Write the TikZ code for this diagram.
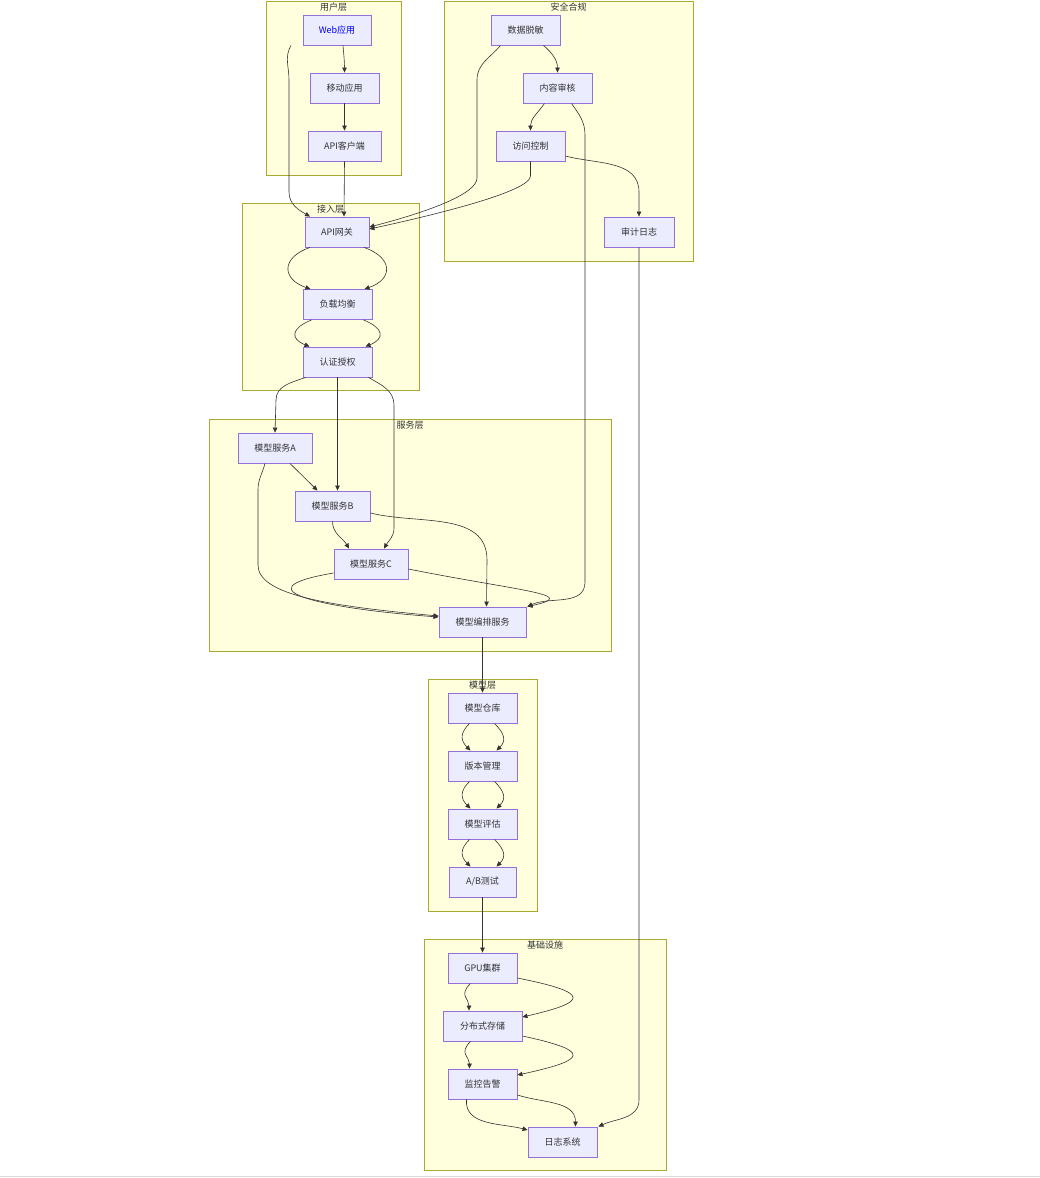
\documentclass[tikz,border=0pt]{standalone}
\usepackage{fontspec}
\setmainfont{Noto Sans CJK SC}
\usetikzlibrary{arrows.meta}
\definecolor{layerfill}{HTML}{FFFFDE}
\definecolor{layerline}{HTML}{AAAA33}
\definecolor{boxfill}{HTML}{ECECFF}
\definecolor{boxline}{HTML}{9370DB}
\definecolor{ink}{HTML}{333333}

\begin{document}
\begin{tikzpicture}[
  x=1pt,
  y=1pt,
  every node/.style={font=\fontsize{9}{11}\selectfont, text=ink},
  layer/.style={draw=layerline, fill=layerfill, line width=0.8pt},
  layerlabel/.style={anchor=north, inner sep=1.5pt},
  box/.style={draw=boxline, fill=boxfill, line width=0.9pt, minimum height=30, inner sep=0pt},
  link/.style={draw=ink, line width=0.6pt, -{Triangle[length=5pt,width=4.5pt]}}
]
  % Canvas: x = pixel column, y = minus pixel row.
  \useasboundingbox (0,0) rectangle (1040,-1178);
  \draw[black!15, line width=1.5pt] (0,-1176.5) -- (1040,-1176.5);

  % Layer frames.
  \draw[layer] (266,-1) rectangle (401,-175);
  \draw[layer] (444,-1) rectangle (693,-261);
  \draw[layer] (242,-203) rectangle (419,-390);
  \draw[layer] (209,-419) rectangle (611,-651);
  \draw[layer] (428,-679) rectangle (537,-911);
  \draw[layer] (424,-939) rectangle (666,-1170);
  \node[layerlabel] (userlbl) at (333.5,-1) {用户层};
  \node[layerlabel] (seclbl) at (568.5,-1) {安全合规};
  \node[layerlabel] (acclbl) at (330.5,-203) {接入层};
  \node[layerlabel] (svclbl) at (410,-419) {服务层};
  \node[layerlabel] (modlbl) at (482.5,-679) {模型层};
  \node[layerlabel] (infralbl) at (545,-939) {基础设施};

  % User layer.
  \node[box, minimum width=68, text=blue] (web) at (337,-30) {Web应用};
  \node[box, minimum width=69] (mobile) at (344.5,-88) {移动应用};
  \node[box, minimum width=73] (apicli) at (344.5,-146) {API客户端};

  % Security and compliance.
  \node[box, minimum width=69] (mask) at (525.5,-30) {数据脱敏};
  \node[box, minimum width=69] (review) at (557.5,-88) {内容审核};
  \node[box, minimum width=69] (access) at (530.5,-146) {访问控制};
  \node[box, minimum width=70] (auditlog) at (639,-232) {审计日志};

  % Access layer.
  \node[box, minimum width=64] (gateway) at (337,-232) {API网关};
  \node[box, minimum width=69] (balancer) at (337.5,-304.5) {负载均衡};
  \node[box, minimum width=69] (authz) at (337.5,-362) {认证授权};

  % Service layer.
  \node[box, minimum width=74] (svcA) at (275,-448) {模型服务A};
  \node[box, minimum width=75] (svcB) at (332.5,-506) {模型服务B};
  \node[box, minimum width=74] (svcC) at (371,-564) {模型服务C};
  \node[box, minimum width=87] (orch) at (482.5,-622) {模型编排服务};

  % Model layer.
  \node[box, minimum width=69] (repo) at (482.5,-708) {模型仓库};
  \node[box, minimum width=69] (version) at (482.5,-766) {版本管理};
  \node[box, minimum width=69] (evalm) at (482.5,-824) {模型评估};
  \node[box, minimum width=67] (abtest) at (482.5,-882) {A/B测试};

  % Infrastructure.
  \node[box, minimum width=69] (gpu) at (482.5,-968) {GPU集群};
  \node[box, minimum width=79] (storage) at (482.5,-1026) {分布式存储};
  \node[box, minimum width=69] (monitor) at (482.5,-1084) {监控告警};
  \node[box, minimum width=69] (logsys) at (562.5,-1142) {日志系统};

  % User layer links.
  \draw[link] ([xshift=6]web.south) to[out=-85,in=90] (mobile.north);
  \draw[link] (mobile.south) -- (apicli.north);
  \draw[link] ([xshift=-46]web.south) to[out=240,in=90] (289,-80) -- (289,-192)
    to[out=-90,in=150] ([xshift=-27]gateway.north);
  \draw[link] (apicli.south) -- ([xshift=7]gateway.north);

  % Security links.
  \draw[link] ([xshift=18]mask.south) to[out=-40,in=90] (review.north);
  \draw[link] ([xshift=-25]mask.south) to[out=230,in=90] (477,-80) -- (477,-178)
    .. controls +(0,-16) and +(58,15) .. ([yshift=5]gateway.east);
  \draw[link] ([xshift=-13]review.south) to[out=235,in=90] (access.north);
  \draw[link] (access.south) -- (530.5,-176)
    .. controls +(0,-16) and +(60,13) .. ([yshift=3]gateway.east);
  \draw[link] ([yshift=-10]access.east) to[out=-15,in=90] (639,-192) -- (auditlog.north);
  \draw[link] ([xshift=14]review.south) to[out=-55,in=90] (585,-135) -- (585,-582)
    to[out=-90,in=25] ([xshift=1]orch.north east);
  \draw[link] (auditlog.south) -- (639,-1100) to[out=-90,in=25] ([xshift=1]logsys.north east);

  % Access layer links.
  \draw[link] ([xshift=-27]gateway.south) .. controls +(-29,-10) and +(-29,10) .. ([xshift=-27]balancer.north);
  \draw[link] ([xshift=27]gateway.south) .. controls +(29,-10) and +(29,10) .. ([xshift=27]balancer.north);
  \draw[link] ([xshift=-26]balancer.south) .. controls +(-20,-8) and +(-20,8) .. ([xshift=-28]authz.north);
  \draw[link] ([xshift=26]balancer.south) .. controls +(20,-8) and +(20,8) .. ([xshift=28]authz.north);

  % Into the service layer.
  \draw[link] ([xshift=-32]authz.south) to[out=200,in=90] (276,-400) -- (svcA.north);
  \draw[link] (authz.south) -- ([xshift=5]svcB.north);
  \draw[link] ([xshift=31]authz.south) to[out=-30,in=90] (394,-405) -- (394,-528)
    to[out=-90,in=60] ([xshift=13]svcC.north);

  % Service layer links.
  \draw[link] ([xshift=15]svcA.south) -- ([xshift=-15]svcB.north);
  \draw[link] ([xshift=-10]svcA.south) to[out=-105,in=90] (258,-490) -- (258,-565)
    .. controls +(0,-30) and +(-110,10) .. ([yshift=6]orch.west);
  \draw[link] (svcB.south) to[out=-90,in=120] ([xshift=-22]svcC.north);
  \draw[link] ([yshift=-7]svcB.east) to[out=-14,in=90] (487,-560) -- ([xshift=4]orch.north);
  \draw[link] ([yshift=-9]svcC.west) .. controls +(-100,-17) and +(-110,8) .. ([yshift=5]orch.west);
  \draw[link] ([yshift=-5]svcC.east) .. controls +(110,-22) and +(55,12) .. ([xshift=1]orch.north east);
  \draw[link] (orch.south) -- (repo.north);

  % Model layer links, each pair twice.
  \foreach \from/\to in {repo/version, version/evalm, evalm/abtest} {
    \draw[link] ([xshift=-13]\from.south) .. controls +(-10,-10) and +(-10,10) .. ([xshift=-12]\to.north);
    \draw[link] ([xshift=12]\from.south) .. controls +(10,-10) and +(10,10) .. ([xshift=14]\to.north);
  }
  \draw[link] (abtest.south) -- (gpu.north);

  % Infrastructure links.
  \draw[link] ([xshift=-12]gpu.south) .. controls +(-12,-12) and +(0,12) .. ([xshift=-13.5]storage.north);
  \draw[link] ([yshift=-10]gpu.east) .. controls +(75,-15) and +(65,15) .. ([yshift=9]storage.east);
  \draw[link] ([xshift=-12]storage.south) .. controls +(-12,-12) and +(0,12) .. ([xshift=-13]monitor.north);
  \draw[link] ([yshift=-10]storage.east) .. controls +(70,-15) and +(70,15) .. ([yshift=9]monitor.east);
  \draw[link] ([xshift=-16]monitor.south) to[out=-95,in=165] ([yshift=12]logsys.west);
  \draw[link] ([yshift=-11]monitor.east) to[out=-18,in=90] ([xshift=13]logsys.north);
\end{tikzpicture}
\end{document}
